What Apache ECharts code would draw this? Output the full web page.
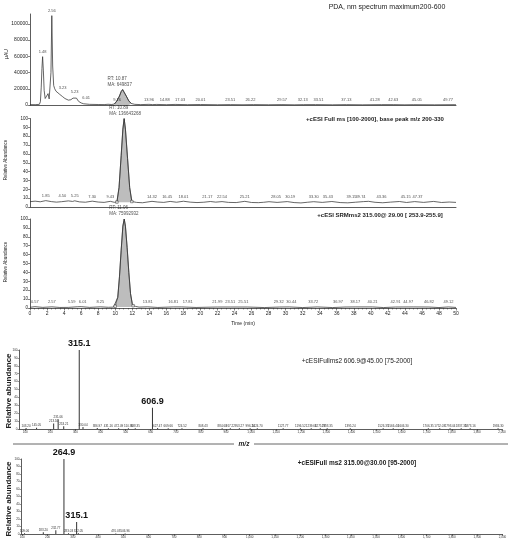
<!DOCTYPE html>
<html><head><meta charset="utf-8">
<script src="https://cdn.jsdelivr.net/npm/echarts@6/dist/echarts.min.js"></script>
<style>html,body{margin:0;padding:0;background:#fff}#c{width:513px;height:550px}</style>
</head><body><div id="c"></div>
<script>
// ---------- Panel 1: PDA chromatogram (time in min, absorbance in uAU) ----------
const pdaTime = [0,0.6,1.1,1.22,1.32,1.4,1.48,1.57,1.66,1.78,1.9,2.0,2.12,2.25,2.38,2.46,2.56,2.66,2.78,2.9,3.05,3.23,3.5,3.8,4.1,4.5,4.8,5.05,5.23,5.45,5.7,6.01,6.3,7.0,8.0,8.7,9.16,9.6,9.9,10.2,10.5,10.7,10.87,11.05,11.3,11.6,11.9,12.3,13.0,13.96,14.4,14.88,16.0,17.03,18.5,20.01,22.0,23.51,25.0,26.22,28.0,29.57,31.0,32.13,33.51,35.5,37.13,39.0,41.28,42.63,44.0,45.05,47.5,49.77,50];
const pdaAbs = [500,400,800,4000,22000,45000,59500,42000,18000,8000,7000,9000,14000,7500,6000,40000,110000,48000,24000,20000,17000,15500,13000,10500,8000,6000,6500,8500,10000,8500,4500,2500,1500,800,600,500,900,600,1200,5000,11000,16500,19000,17000,11000,5000,1800,800,500,800,500,700,400,700,400,600,300,500,300,500,300,500,250,450,500,250,450,250,450,450,250,400,250,400,300];
const pdaLabelTimes = [1.48,2.56,3.23,5.23,6.01,9.16,13.96,14.88,17.03,20.01,23.51,26.22,29.57,32.13,33.51,37.13,41.28,42.63,45.05,49.77];
const pdaRT = {time:10.87, lines:['RT: 10.87','MA: 649837']};
const pdaWindow = [9.9, 11.9];
const pdaYTicks = [0,20000,40000,60000,80000,100000];

// ---------- Panel 2: +cESI Full ms base peak chromatogram (relative abundance) ----------
const fullTime = [0,0.6,1.2,1.85,2.5,3.1,3.7,4.5,5.0,5.25,5.8,6.5,7.3,8.0,8.7,9.43,9.9,10.2,10.45,10.7,10.9,11.05,11.2,11.45,11.7,11.95,12.5,13.2,14.32,15.0,15.7,16.45,17.2,18.01,18.8,19.6,20.4,21.17,21.8,22.54,23.3,24.2,25.21,26.0,26.8,27.4,28.05,29.0,30.19,31.0,31.8,32.6,33.3,34.3,35.43,36.4,37.3,38.2,39.15,39.74,40.5,41.4,42.3,43.36,44.2,45.15,46.2,47.37,48.3,49.2,50];
const fullAbund = [6.0,6.6,5.9,7.2,6.1,5.5,6.0,6.9,6.3,7.0,5.8,5.4,6.6,5.6,5.2,6.4,5.3,5.6,22,58,88,100,88,55,22,6.2,5.2,4.8,6.4,5.6,5.2,6.3,5.4,6.5,5.5,5.0,5.4,6.2,5.5,6.1,5.2,5.0,6.4,5.1,4.9,5.3,6.0,5.2,6.1,5.0,4.6,5.4,6.0,5.2,6.2,5.0,4.7,5.4,6.1,6.4,5.3,4.8,5.5,6.2,5.1,6.1,5.2,6.3,5.1,5.6,5.2];
const fullLabelTimes = [1.85,4.5,5.25,7.3,9.43,14.32,16.45,18.01,21.17,22.54,25.21,28.05,30.19,33.3,35.43,39.15,39.74,43.36,45.15,47.37];
const fullRT = {time:11.05, lines:['RT: 10.89','MA: 136643268']};
const fullWindow = [10.2, 11.95];

// ---------- Panel 3: +cESI SRM chromatogram (relative abundance) ----------
const srmTime = [0,0.57,1.5,2.57,3.5,4.5,5.59,6.01,7.0,8.25,9.2,9.8,10.0,10.3,10.5,10.7,10.9,11.06,11.2,11.4,11.6,11.8,12.0,12.1,12.4,12.8,13.81,15.0,16.81,17.81,19.5,21.99,23.51,25.51,27.5,29.32,30.44,32.0,33.72,35.5,36.97,38.17,40.21,41.5,42.91,44.97,46.82,48.0,49.12,50];
const srmAbund = [0.8,1.5,0.7,1.3,0.6,0.7,1.4,1.5,0.7,1.3,0.8,1.0,2.0,12,35,65,92,100,92,68,40,16,5,2.6,1.8,1.0,1.3,0.6,1.2,1.2,0.6,1.1,1.1,1.1,0.5,1.1,1.2,0.5,1.2,0.5,1.1,1.2,1.2,0.5,1.1,1.2,1.1,0.5,1.2,0.6];
const srmLabelTimes = [0.57,2.57,5.59,6.01,8.25,13.81,16.81,17.81,21.99,23.51,25.51,29.32,30.44,33.72,36.97,38.17,40.21,42.91,44.97,46.82,49.12];
const srmRT = {time:11.06, lines:['RT: 11.06','MA: 75992932']};
const srmWindow = [10.0, 12.1];

// ---------- Panel 4: MS2 of 606.9 (m/z, relative abundance) ----------
const ms1Mz = [103.2,145.05,213.10,231.06,253.21,315.1,330.04,386.97,431.16,472.09,510.96,538.35,606.9,627.47,669.66,724.52,808.43,884.60,917.22,953.27,996.24,1024.70,1127.77,1196.52,1239.66,1275.77,1303.35,1395.24,1526.35,1566.40,1606.30,1706.35,1752.03,1793.04,1837.35,1873.16,1984.30];
const ms1Int = [1.2,1.5,7,12.5,3.5,100,2.5,1.2,1,1,1,1,27,1.2,1,0.8,0.8,0.8,0.8,0.8,0.8,0.8,0.8,0.8,0.8,0.8,0.8,0.8,0.8,0.8,0.8,0.8,0.8,0.8,0.8,0.8,0.8];
const ms1Main = [315.1, 606.9];

// ---------- Panel 5: MS2 of 315.00 ----------
const ms2Mz = [109.06,183.20,232.77,264.9,283.03,315.1,322.05,470.03,506.96];
const ms2Int = [1,2.5,5,100,1,16,1,0.8,0.8];
const ms2Main = [264.9, 315.1];

const mzTicks = [100,200,300,400,500,600,700,800,900,1000,1100,1200,1300,1400,1500,1600,1700,1800,1900,2000];

// ---------- layout only: horizontal nudges (px) of peak labels, as placed in the original to avoid overlap ----------
const pdaLabelShift = {3.23:5, 6.01:5, 9.16:9, 14.88:8, 17.03:5, 26.22:-3, 32.13:-1, 33.51:3, 41.28:-7, 45.05:3, 49.77:-6};
const fullLabelShift = {4.5:-6, 16.45:-3, 21.17:-3, 28.05:7, 30.19:3, 35.43:-4, 39.15:-12, 39.74:-8, 43.36:-18, 45.15:-9, 47.37:-16};
const srmLabelShift = {5.59:-6, 6.01:1.5, 17.81:6, 25.51:-4, 29.32:-1, 30.44:2, 33.72:-4, 36.97:-7, 44.97:-5};

const FONT = '"Liberation Sans", Arial, sans-serif';
const INK = '#222';

function chromSeries(gi, times, vals, labTimes, rt, win, origin, markers, shifts) {
  const lineData = times.map((t,i)=>[t, vals[i]]);
  const peakData = lineData.filter(p => p[0] >= win[0] && p[0] <= win[1]);
  const labData = [];
  times.forEach((t,i)=>{
    if (labTimes.includes(t)) labData.push({value:[t, vals[i]], label:{formatter:t.toFixed(2), offset:[shifts[t]||0, 0]}});
    if (t === rt.time) labData.push({value:[t, vals[i]], label:{formatter:rt.lines.join('\n'), fontSize:4.5, align:'left', offset:[-15,0]}});
  });
  const out = [
    {type:'line', xAxisIndex:gi, yAxisIndex:gi, data:peakData, symbol:'none', silent:true, z:2,
     lineStyle:{width:0.7, color:'#444'}, areaStyle:{color:'#bdbdbd', opacity:1, origin:origin}},
    {type:'line', xAxisIndex:gi, yAxisIndex:gi, data:lineData, symbol:'none', silent:true, z:3,
     lineStyle:{width:0.75, color:'#333'}},
    {type:'scatter', xAxisIndex:gi, yAxisIndex:gi, data:labData, symbolSize:0.5, silent:true, z:5,
     itemStyle:{color:'rgba(0,0,0,0)'},
     label:{show:true, position:'top', distance:1.5, fontSize:4, lineHeight:6, fontFamily:FONT, color:INK}}
  ];
  if (markers) {
    out.push({type:'scatter', xAxisIndex:gi, yAxisIndex:gi, symbol:'rect', symbolSize:2.5, silent:true, z:6,
      data: lineData.filter(p => p[0] === win[0] || p[0] === win[1]),
      itemStyle:{color:'#fff', borderColor:'#222', borderWidth:0.6}});
  }
  return out;
}

function msSeries(gi, mz, inten, main) {
  return {type:'bar', xAxisIndex:gi, yAxisIndex:gi, barWidth:1, silent:true,
    itemStyle:{color:'#333'},
    data: mz.map((m,i)=>{
      const isMain = main.includes(m);
      return {value:[m, inten[i]], label:{show:true, position:'top', distance: isMain?1.5:0.8,
        formatter: isMain ? String(m) : m.toFixed(2),
        fontSize: isMain?9:3, fontWeight: isMain?'bold':'normal', fontFamily:FONT, color: isMain?'#111':'#333'}};
    })};
}

const axLine = {show:true, lineStyle:{color:'#333', width:0.8}};
function timeX(gi, showLabels) {
  return {type:'value', gridIndex:gi, min:0, max:50, interval:2, splitLine:{show:false},
    axisLine:axLine,
    axisTick:{show:showLabels, length:2.5, lineStyle:{color:'#333', width:0.6}},
    minorTick:{show:showLabels, splitNumber:4, length:1.5, lineStyle:{color:'#333', width:0.5}},
    axisLabel:{show:showLabels, fontSize:5, margin:3, color:INK, fontFamily:FONT},
    name: showLabels ? 'Time (min)' : '', nameLocation:'middle', nameGap:13,
    nameTextStyle:{fontSize:5, color:INK, fontFamily:FONT}};
}
function relY(gi) {
  return {type:'value', gridIndex:gi, min:0, max:100, interval:10, splitLine:{show:false},
    axisLine:axLine, axisTick:{show:true, length:2, lineStyle:{color:'#333', width:0.6}},
    axisLabel:{fontSize:4.5, margin:2, color:INK, fontFamily:FONT}};
}
function mzX(gi, min) {
  return {type:'value', gridIndex:gi, min:min, max:2000, splitLine:{show:false},
    axisLine:axLine,
    axisTick:{show:true, length:2, customValues:mzTicks, lineStyle:{color:'#333', width:0.6}},
    axisLabel:{fontSize:3, margin:2, color:'#333', fontFamily:FONT, customValues:mzTicks}};
}
function msY(gi) {
  return {type:'value', gridIndex:gi, min:0, max:100, interval:10, splitLine:{show:false},
    axisLine:axLine, axisTick:{show:true, length:1.5, lineStyle:{color:'#333', width:0.5}},
    axisLabel:{fontSize:3, margin:1.5, color:'#333', fontFamily:FONT}};
}

function txt(x, y, text, size, weight, rot, style) {
  return {type:'text', x:x, y:y, rotation: rot||0, silent:true,
    style:{text:text, fontSize:size, fontWeight:weight||'normal', fontStyle:style||'normal', fontFamily:FONT, fill:INK, align:'center', verticalAlign:'middle'}};
}

const option = {
  animation:false,
  backgroundColor:'#fff',
  grid:[
    {left:30, top:14, width:426, height:91},
    {left:30, top:118.5, width:426, height:88.5},
    {left:30, top:219, width:426, height:89},
    {left:19, top:350, width:483, height:79},
    {left:21, top:459, width:481.5, height:75}
  ],
  xAxis:[ timeX(0,false), timeX(1,false), timeX(2,true), mzX(3,75), mzX(4,95) ],
  yAxis:[
    {type:'value', gridIndex:0, min:0, max:112000, splitLine:{show:false}, axisLine:axLine,
     axisTick:{show:true, length:2, customValues:pdaYTicks, lineStyle:{color:'#333', width:0.6}},
     axisLabel:{fontSize:5, margin:2, color:INK, fontFamily:FONT, customValues:pdaYTicks, formatter:v=>String(v)}},
    relY(1), relY(2), msY(3), msY(4)
  ],
  series:[
    ...chromSeries(0, pdaTime, pdaAbs, pdaLabelTimes, pdaRT, pdaWindow, 0, false, pdaLabelShift),
    ...chromSeries(1, fullTime, fullAbund, fullLabelTimes, fullRT, fullWindow, 5.5, true, fullLabelShift),
    ...chromSeries(2, srmTime, srmAbund, srmLabelTimes, srmRT, srmWindow, 1, true, srmLabelShift),
    msSeries(3, ms1Mz, ms1Int, ms1Main),
    msSeries(4, ms2Mz, ms2Int, ms2Main)
  ],
  graphic:[
    txt(387, 7, 'PDA, nm spectrum maximum200-600', 7),
    txt(375, 119, '+cESI Full ms [100-2000], base peak m/z 200-330', 6, 'bold'),
    txt(380, 215, '+cESI SRMms2 315.00@ 29.00 [ 253.9-255.9]', 6, 'bold'),
    txt(357, 361, '+cESIFullms2 606.9@45.00 [75-2000]', 6.5),
    txt(357, 463, '+cESIFull ms2 315.00@30.00 [95-2000]', 6.5, 'bold'),
    txt(7, 54, 'μAU', 5, 'normal', Math.PI/2),
    txt(6, 160, 'Relative Abundance', 4.5, 'normal', Math.PI/2),
    txt(6, 262, 'Relative Abundance', 4.5, 'normal', Math.PI/2),
    txt(9, 391, 'Relative abundance', 8, 'bold', Math.PI/2),
    txt(9, 499, 'Relative abundance', 8, 'bold', Math.PI/2),
    {type:'line', silent:true, shape:{x1:13, y1:444, x2:234, y2:444}, style:{stroke:'#666', lineWidth:1}},
    {type:'line', silent:true, shape:{x1:254, y1:444, x2:508, y2:444}, style:{stroke:'#666', lineWidth:1}},
    txt(244, 444, 'm/z', 6.5, 'bold', 0, 'italic')
  ]
};
const chart = echarts.init(document.getElementById('c'));
chart.setOption(option);
</script>
</body></html>
